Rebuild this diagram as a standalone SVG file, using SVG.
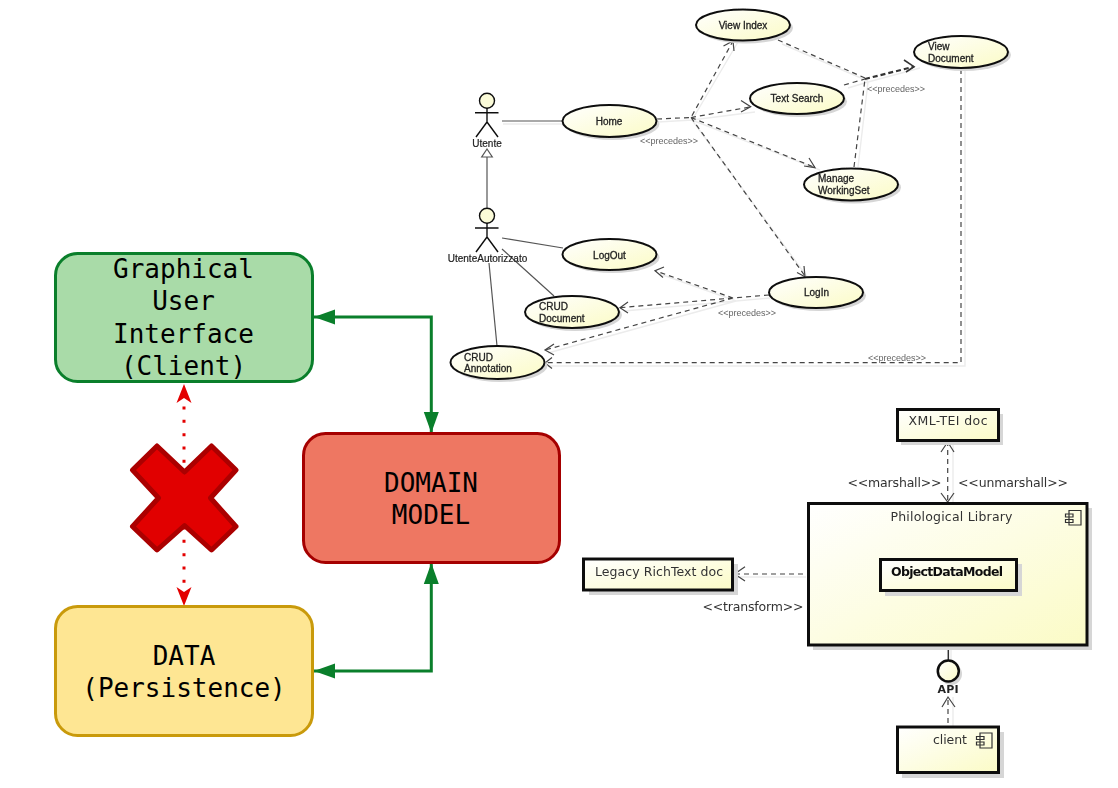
<svg xmlns="http://www.w3.org/2000/svg" width="1118" height="788" viewBox="0 0 1118 788">
<style>
.big{font-family:"DejaVu Sans Mono","Liberation Mono",monospace;font-size:26px;fill:#000;text-anchor:middle}
.box{stroke-width:3}
.uc{fill:url(#cream);stroke:#111;stroke-width:2}
.sh{fill:#d6d6d6;stroke:none}
.cl{fill:url(#cream);stroke:#111;stroke-width:3}
.ln{fill:none;stroke:#555;stroke-width:1.2}
.gh{fill:none;stroke:#ececec;stroke-width:1.4}
.ds{fill:none;stroke:#444;stroke-width:1.2;stroke-dasharray:5 4}
.ah{fill:none;stroke:#444;stroke-width:1.2}
.t{font-family:"Liberation Sans",Arial,sans-serif;font-size:10px;fill:#222;stroke:#222;stroke-width:.3}
.m{text-anchor:middle}
.a{font-family:"Liberation Sans",Arial,sans-serif;font-size:10px;fill:#222;stroke:#222;stroke-width:.2;text-anchor:middle}
.s{font-family:"Liberation Sans",Arial,sans-serif;font-size:9px;fill:#666}
.c{font-family:"DejaVu Sans",sans-serif;font-size:12.5px;fill:#333}
.act{fill:none;stroke:#111;stroke-width:1.4}
.ico{fill:none;stroke:#333;stroke-width:1.2}
</style>
<defs>
<linearGradient id="cream" x1="0" y1="0" x2="1" y2="1"><stop offset="0" stop-color="#ffffff"/><stop offset="1" stop-color="#fbfbc6"/></linearGradient>
<filter id="soft" filterUnits="userSpaceOnUse" x="0" y="0" width="1118" height="788"><feGaussianBlur stdDeviation="0.5"/></filter>
<marker id="gh" markerUnits="userSpaceOnUse" markerWidth="22" markerHeight="16" refX="21" refY="8" orient="auto-start-reverse"><path d="M0,0.5L21,8L0,15.5Z" fill="#0a7f2b"/></marker>
<marker id="rh" markerUnits="userSpaceOnUse" markerWidth="22" markerHeight="16" refX="21" refY="8" orient="auto-start-reverse"><path d="M2,0.5L21,8L2,15.5L7,8Z" fill="#e30000"/></marker>
</defs>
<rect width="1118" height="788" fill="#fff"/>

<g id="connectors">
<path d="M314,317H431.3V433" fill="none" stroke="#0a7f2b" stroke-width="3" marker-start="url(#gh)" marker-end="url(#gh)" />
<path d="M314,671H431.3V563" fill="none" stroke="#0a7f2b" stroke-width="3" marker-start="url(#gh)" marker-end="url(#gh)" />
<path d="M184,384V606" fill="none" stroke="#e30000" stroke-width="3" stroke-dasharray="3 10.33" stroke-dashoffset="4.13" marker-start="url(#rh)" marker-end="url(#rh)"/>
<g filter="url(#soft)">
<path class="gh" d="M503,124H562M658,122L692,120L738,42M692,120L755,112M692,120L820,170M692,120L808,278M782,44L868,81M848,88L868,82L920,68M858,167L868,82M965,70V366H548M770,298L736,301L660,274M736,301L624,311M736,301L548,353M953,442V503M806,577H736M951,646V660M953,697V726"/>
<path class="ln" d="M502,121H562M502,238L563,248M502,249L554,296M489,263L497,346M487,157V208"/>
<path d="M487,149L481.7,157H492.3Z" fill="#fff" stroke="#555" stroke-width="1.2"/>
<path class="ds" d="M657,119L691,117.5L733,41M691,117.5L750,107M691,117.5L815,167.5M691,117.5L805,276"/>
<path class="ah" d="M723.5,46L733,41L734,51M741,100.5L750.7,106.7L741,112M804,166L815,167.7L809,158M797,272.5L805,276.7L804,266"/>
<path class="ds" d="M778,40L865,78M844,85L865,79M854,167L865,79"/>
<path d="M865,79L914,66.7" fill="none" stroke="#333" stroke-width="2.2" stroke-dasharray="5 3"/>
<path d="M904,60L914,66.7L906,72" fill="none" stroke="#333" stroke-width="1.6"/>
<path class="ds" d="M961,69V362.7H545"/>
<path class="ah" d="M552,357.5L545,363L552,368.5M664,267L655,270.7L663,277.5M628,302L620,307.7L628,313M554,344L545,350L554,355"/>
<path class="ds" d="M769,295L733,298L655,270.7M733,298L620,307.7M733,298L545,350"/>
<path class="ds" d="M947.7,441V503"/>
<path class="ah" d="M941,452L947.7,442L954,452M941,493L947.7,502L954,493"/>
<path class="ds" d="M803,574H735"/>
<path class="ah" d="M745,566.7L734.5,574L745,581"/>
<path d="M948.3,645V660" fill="none" stroke="#333" stroke-width="1.5"/>
<path class="ds" d="M948,723V697"/>
<path class="ah" d="M942,707L948,697L955,707"/>
</g>
</g>

<g id="gui"><rect class="box" x="55.5" y="253.5" width="257" height="128" rx="22" fill="#a9dba8" stroke="#0a7f2b"/>
<text class="big" x="183.5" y="278">Graphical</text><text class="big" x="183.5" y="310">User</text><text class="big" x="183.5" y="343">Interface</text><text class="big" x="183.5" y="375">(Client)</text></g>
<g id="domain"><rect class="box" x="303.5" y="433.5" width="256" height="129" rx="22" fill="#ee7762" stroke="#a50000"/>
<text class="big" x="431" y="492">DOMAIN</text><text class="big" x="431" y="524">MODEL</text></g>
<g id="data"><rect class="box" x="55.5" y="606.5" width="257" height="129" rx="22" fill="#fee693" stroke="#c99a0b"/>
<text class="big" x="184" y="665">DATA</text><text class="big" x="184" y="697">(Persistence)</text></g>
<g id="cross"><path d="M184.5,472L211.5,446L236,470L210.5,498L236,526.5L211.5,550L184.5,525.5L157,550L132.5,526.5L158.5,498L132.5,470L157,446Z" fill="#e10000" stroke="#ab0000" stroke-width="5" stroke-linejoin="round"/></g>

<g filter="url(#soft)">
<g id="utente"><circle class="act" cx="487" cy="100.7" r="7.5" style="fill:#fbfbd8"/><path class="act" d="M475,112.7H498.5M487,108V122M476,137L487,122L498,137"/><text class="a" x="487" y="147">Utente</text></g>
<g id="utente-autorizzato"><circle class="act" cx="487" cy="215.7" r="7.5" style="fill:#fbfbd8"/><path class="act" d="M475,228H498.5M487,223V237M476,252L487,237L498,252"/><text class="a" x="487.5" y="262">UtenteAutorizzato</text></g>
<g id="view-index"><ellipse class="sh" cx="746" cy="28" rx="47" ry="15.5"/><ellipse class="uc" cx="743" cy="25" rx="47" ry="15.5"/><text class="t m" x="743" y="29">View Index</text></g>
<g id="view-document"><ellipse class="sh" cx="964" cy="55" rx="47" ry="16"/><ellipse class="uc" cx="961" cy="52" rx="47" ry="16"/><text class="t" x="928" y="50">View</text><text class="t" x="928" y="62">Document</text></g>
<g id="text-search"><ellipse class="sh" cx="800" cy="101.5" rx="47" ry="15.5"/><ellipse class="uc" cx="797" cy="98.5" rx="47" ry="15.5"/><text class="t m" x="797" y="102">Text Search</text></g>
<g id="manage"><ellipse class="sh" cx="854" cy="187.5" rx="47" ry="16"/><ellipse class="uc" cx="851" cy="184.5" rx="47" ry="16"/><text class="t" x="818" y="182">Manage</text><text class="t" x="818" y="194">WorkingSet</text></g>
<g id="home"><ellipse class="sh" cx="612.5" cy="124" rx="47" ry="16"/><ellipse class="uc" cx="609.5" cy="121" rx="47" ry="16"/><text class="t m" x="609" y="125">Home</text></g>
<g id="logout"><ellipse class="sh" cx="612.5" cy="257.5" rx="47" ry="15.5"/><ellipse class="uc" cx="609.5" cy="254.5" rx="47" ry="15.5"/><text class="t m" x="609.5" y="259">LogOut</text></g>
<g id="crud-document"><ellipse class="sh" cx="575" cy="315" rx="47" ry="16"/><ellipse class="uc" cx="572" cy="312" rx="47" ry="16"/><text class="t" x="539" y="310">CRUD</text><text class="t" x="539" y="322">Document</text></g>
<g id="crud-annotation"><ellipse class="sh" cx="500.5" cy="365.5" rx="47" ry="16.5"/><ellipse class="uc" cx="497.5" cy="362.5" rx="47" ry="16.5"/><text class="t" x="464" y="361">CRUD</text><text class="t" x="464" y="372">Annotation</text></g>
<g id="login"><ellipse class="sh" cx="819" cy="295.5" rx="47" ry="15.5"/><ellipse class="uc" cx="816" cy="292.5" rx="47" ry="15.5"/><text class="t m" x="816.5" y="296">LogIn</text></g>
<g id="use-case-labels">
<text class="s" x="640" y="144">&lt;&lt;precedes&gt;&gt;</text><text class="s" x="867" y="92">&lt;&lt;precedes&gt;&gt;</text><text class="s" x="718" y="316">&lt;&lt;precedes&gt;&gt;</text><text class="s" x="868" y="361">&lt;&lt;precedes&gt;&gt;</text>
</g>
<g id="xml-tei"><rect class="sh" x="901" y="414" width="102" height="31"/><rect class="cl" x="897.5" y="409.5" width="101" height="31"/><text class="c m" x="948" y="425" textLength="79">XML-TEI doc</text></g>
<g id="philological"><rect class="sh" x="813" y="508" width="279" height="142"/><rect class="cl" x="808.5" y="503.5" width="278.5" height="141.5"/><text class="c m" x="951.5" y="520.5" textLength="122">Philological Library</text><path class="ico" d="M1069,510.5H1081V525H1069ZM1065.5,514H1073V517H1065.5ZM1065.5,519.5H1073V522.5H1065.5Z"/></g>
<g id="odm"><rect class="sh" x="885" y="564" width="137" height="32"/><rect class="cl" x="880.5" y="559.5" width="136" height="31"/><text class="c m" x="947" y="575.5" style="font-weight:bold;fill:#111" textLength="112">ObjectDataModel</text></g>
<g id="legacy"><rect class="sh" x="589" y="564" width="149" height="31"/><rect class="cl" x="583.5" y="559" width="149" height="31"/><text class="c" x="595" y="576" textLength="128">Legacy RichText doc</text></g>
<g id="api"><circle cx="951" cy="674" r="11" fill="#d6d6d6"/><circle cx="948.3" cy="671" r="10.5" fill="url(#cream)" stroke="#111" stroke-width="2.5"/><text class="c m" x="948" y="693" style="font-weight:bold;fill:#222;font-size:11px" textLength="21">API</text></g>
<g id="client"><rect class="sh" x="902" y="732" width="102" height="46"/><rect class="cl" x="897.5" y="727" width="101" height="45.5"/><text class="c" x="933" y="743.5" textLength="34">client</text><path class="ico" d="M980,733H992V748H980ZM976.5,736.5H984V739.5H976.5ZM976.5,742H984V745H976.5Z"/></g>
<g id="component-labels">
<text class="c" x="847.5" y="487" textLength="94">&lt;&lt;marshall&gt;&gt;</text><text class="c" x="958" y="487" textLength="110">&lt;&lt;unmarshall&gt;&gt;</text><text class="c" x="702.5" y="611" textLength="101">&lt;&lt;transform&gt;&gt;</text>
</g>
</g>
</svg>
